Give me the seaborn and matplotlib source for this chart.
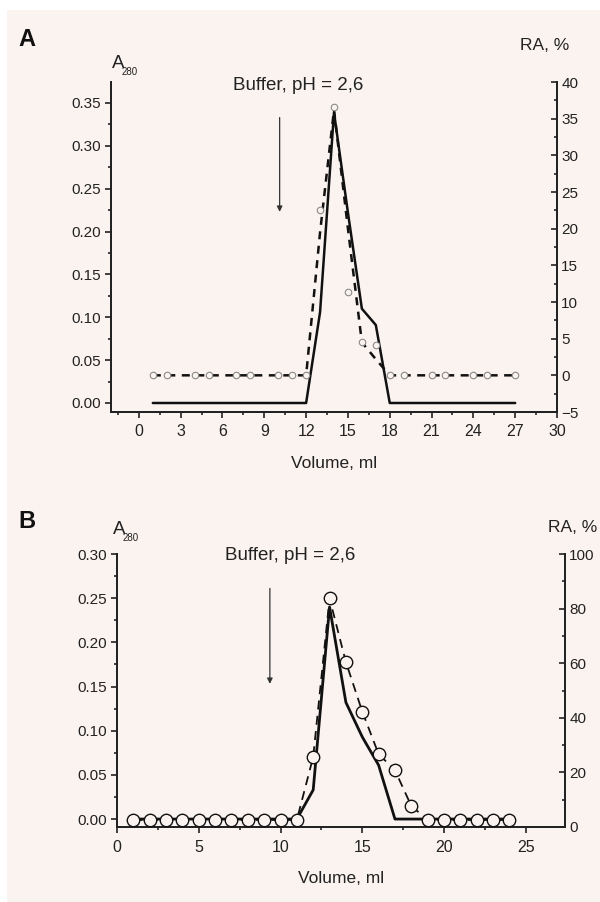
import matplotlib
matplotlib.use("Agg")
import matplotlib.pyplot as plt
import seaborn as sns
from matplotlib.ticker import MultipleLocator, FormatStrFormatter
from matplotlib.patches import Rectangle

sns.set_style("ticks")
plt.rcParams['font.family'] = ['Liberation Sans', 'DejaVu Sans']

# ---- panel A ----
vol_a = [1, 2, 3, 4, 5, 6, 7, 8, 9, 10, 11, 12, 13, 14, 15, 16, 17, 18, 19, 20,
         21, 22, 23, 24, 25, 26, 27]
a280_a = [0, 0, 0, 0, 0, 0, 0, 0, 0, 0, 0, 0, 0.106, 0.339, 0.222, 0.110, 0.091,
          0, 0, 0, 0, 0, 0, 0, 0, 0, 0]
ra_line_a = [0, 0, 0, 0, 0, 0, 0, 0, 0, 0, 0, 0, 19.5, 36.2, 20.0, 4.5, 2.2,
             0, 0, 0, 0, 0, 0, 0, 0, 0, 0]
vol_pts_a = [1, 2, 4, 5, 7, 8, 10, 11, 12, 13, 14, 15, 16, 17, 18, 19, 21, 22,
             24, 25, 27]
ra_pts_a = [0, 0, 0, 0, 0, 0, 0, 0, 0, 22.5, 36.6, 11.4, 4.5, 4.1, 0, 0, 0, 0,
            0, 0, 0]

# ---- panel B ----
vol_b = [1, 2, 3, 4, 5, 6, 7, 8, 9, 10, 11, 12, 13, 14, 15, 16, 17, 18, 19, 20,
         21, 22, 23, 24]
a280_b = [0, 0, 0, 0, 0, 0, 0, 0, 0, 0, 0, 0.033, 0.240, 0.132, 0.093, 0.061,
          0, 0, 0, 0, 0, 0, 0, 0]
ra_b = [2.6, 2.6, 2.6, 2.6, 2.6, 2.6, 2.6, 2.6, 2.6, 2.6, 2.6, 25.7, 83.7, 60.4,
        42.3, 26.7, 20.8, 7.7, 2.6, 2.6, 2.6, 2.6, 2.6, 2.6]

bg = '#fbf3f0'
W, H = 600, 902

fig = plt.figure(figsize=(6, 9.02), dpi=100)
fig.patch.set_facecolor('white')
fig.patches.append(Rectangle((7 / W, 0), 1, 1 - 10 / H, transform=fig.transFigure,
                             facecolor=bg, edgecolor='none', zorder=-10))


def fx(px):
    return px / W


def fy(py):
    return 1 - py / H


def style_axes(ax, ax2):
    ax.set_facecolor('none')
    ax2.set_facecolor('none')
    for a in (ax, ax2):
        a.spines['top'].set_visible(False)
        for s in ('left', 'right', 'bottom'):
            a.spines[s].set_linewidth(1.3)
            a.spines[s].set_color('#222222')
    ax.tick_params(axis='x', which='both', direction='out', labelsize=11.5, pad=5,
                   colors='#222222')
    ax.tick_params(axis='y', which='both', direction='out', labelsize=11, pad=3,
                   colors='#222222')
    ax2.tick_params(axis='y', which='both', direction='in', labelsize=11, pad=3,
                    colors='#222222')
    for a in (ax, ax2):
        a.tick_params(which='major', length=4, width=1.2)
        a.tick_params(which='minor', length=2.5, width=1.2)
    ax.set_xlabel('Volume, ml', fontsize=12.5, labelpad=12, color='#222222')
    ax.set_ylabel('')
    ax2.set_ylabel('')


def a280_label(x, y):
    fig.text(fx(x), fy(y), 'A', fontsize=13.5, ha='left', va='center',
             color='#222222')
    fig.text(fx(x + 10), fy(y + 8), '280', fontsize=7, ha='left', va='center',
             color='#222222')


# ================= A =================
axA = fig.add_axes([fx(111), fy(412), fx(557 - 111), (412 - 82) / H])
axA2 = axA.twinx()
sns.lineplot(x=vol_a, y=a280_a, ax=axA, color='#111111', linewidth=1.8, zorder=3)
sns.lineplot(x=vol_a, y=ra_line_a, ax=axA2, color='#111111', linewidth=1.8,
             zorder=2)
axA2.lines[-1].set_dashes((3.2, 2.6))
sns.scatterplot(x=vol_pts_a, y=ra_pts_a, ax=axA2, marker='o', s=22,
                facecolor=bg, edgecolor='#8a8a8a', linewidth=0.8, zorder=4)
axA.set_xlim(-2, 30)
axA.set_ylim(-0.0105, 0.3745)
axA2.set_ylim(-5, 40)
axA.xaxis.set_major_locator(MultipleLocator(3))
axA.xaxis.set_minor_locator(MultipleLocator(1.5))
axA.yaxis.set_major_locator(MultipleLocator(0.05))
axA.yaxis.set_minor_locator(MultipleLocator(0.025))
axA.yaxis.set_major_formatter(FormatStrFormatter('%.2f'))
axA2.yaxis.set_major_locator(MultipleLocator(5))
axA2.yaxis.set_minor_locator(MultipleLocator(2.5))
style_axes(axA, axA2)
axA.annotate('', xy=(10.1, 0.223), xytext=(10.1, 0.333),
             arrowprops=dict(arrowstyle='-|>', color='#333333', lw=0.9,
                             mutation_scale=8, shrinkA=0, shrinkB=0))

fig.text(fx(27), fy(40), 'A', fontsize=17, fontweight='bold', ha='center',
         va='center', color='#111111')
a280_label(112, 64)
fig.text(fx(545), fy(46), 'RA, %', fontsize=12.5, ha='center', va='center',
         color='#222222')
fig.text(fx(298), fy(86), 'Buffer, pH = 2,6', fontsize=13.5, ha='center',
         va='center', color='#222222')

# ================= B =================
axB = fig.add_axes([fx(117), fy(827), fx(565 - 117), (827 - 554) / H])
axB2 = axB.twinx()
sns.lineplot(x=vol_b, y=a280_b, ax=axB, color='#111111', linewidth=2.0, zorder=3)
sns.lineplot(x=vol_b, y=ra_b, ax=axB2, color='#111111', linewidth=1.3,
             zorder=2)
axB2.lines[-1].set_dashes((5, 3.5))
sns.scatterplot(x=vol_b, y=ra_b, ax=axB2, marker='o', s=80, facecolor=bg,
                edgecolor='#111111', linewidth=1.0, zorder=4)
axB.set_xlim(0, 27.4)
axB.set_ylim(-0.009, 0.30)
axB2.set_ylim(0, 100)
axB.xaxis.set_major_locator(MultipleLocator(5))
axB.xaxis.set_minor_locator(MultipleLocator(2.5))
axB.yaxis.set_major_locator(MultipleLocator(0.05))
axB.yaxis.set_minor_locator(MultipleLocator(0.025))
axB.yaxis.set_major_formatter(FormatStrFormatter('%.2f'))
axB2.yaxis.set_major_locator(MultipleLocator(20))
axB2.yaxis.set_minor_locator(MultipleLocator(10))
style_axes(axB, axB2)
axB.annotate('', xy=(9.35, 0.153), xytext=(9.35, 0.261),
             arrowprops=dict(arrowstyle='-|>', color='#333333', lw=0.9,
                             mutation_scale=8, shrinkA=0, shrinkB=0))

fig.text(fx(27), fy(522), 'B', fontsize=17, fontweight='bold', ha='center',
         va='center', color='#111111')
a280_label(113, 530)
fig.text(fx(573), fy(528), 'RA, %', fontsize=12.5, ha='center', va='center',
         color='#222222')
fig.text(fx(290), fy(556), 'Buffer, pH = 2,6', fontsize=13.5, ha='center',
         va='center', color='#222222')

fig.savefig('out.png', dpi=100, facecolor=fig.get_facecolor())
